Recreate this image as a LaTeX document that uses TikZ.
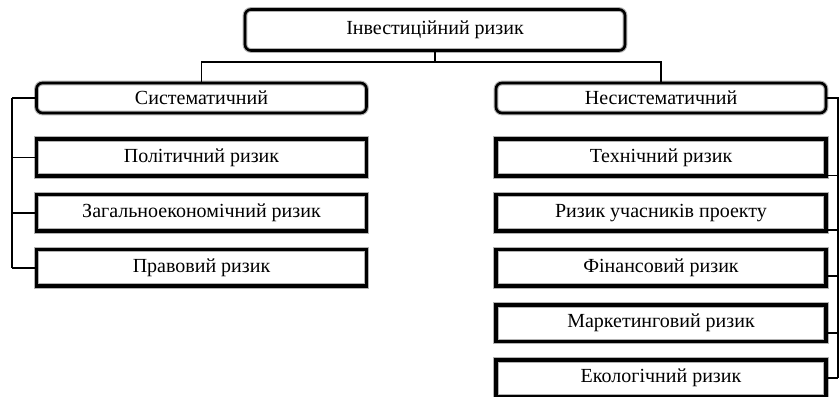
\documentclass[tikz,border=0pt]{standalone}
\usepackage{fontspec}
\setmainfont{Liberation Serif}
\usetikzlibrary{positioning}

\begin{document}
\begin{tikzpicture}[x=0.5pt,y=-0.5pt,
      node distance=7.5pt,
      korin/.style={draw,rounded corners=3pt,line width=1.3pt,align=center,
                    font=\fontsize{10}{12}\selectfont,
                    minimum width=190pt,minimum height=20.5pt,
                    preaction={draw=black!30,line width=2.4pt}},
      grupa/.style={korin,minimum width=165pt,minimum height=15pt},
      vyd/.style={draw,line width=1.8pt,align=center,
                  font=\fontsize{10}{12}\selectfont,
                  minimum width=165pt,minimum height=18.3pt,
                  preaction={draw=black!30,line width=2.8pt}},
      link/.style={draw=black,line width=0.9pt}]
    \fill[white] (0,0) rectangle (839,396);
    \useasboundingbox (0,0) rectangle (839,396);
    \node[korin] (inv) at (435,30) {Інвестиційний ризик};
    \node[grupa] (sys) at (201.5,98) {Систематичний};
    \node[grupa] (nsys) at (661,98) {Несистематичний};
    % systematic risks
    \node[vyd,below=11.5pt of sys] (s1) {Політичний ризик};
    \node[vyd,below=of s1] (s2) {Загальноекономічний ризик};
    \node[vyd,below=of s2] (s3) {Правовий ризик};
    % non-systematic risks
    \node[vyd,below=11.5pt of nsys] (t1) {Технічний ризик};
    \node[vyd,below=of t1] (t2) {Ризик учасників проекту};
    \node[vyd,below=of t2] (t3) {Фінансовий ризик};
    \node[vyd,below=of t3] (t4) {Маркетинговий ризик};
    \node[vyd,below=of t4] (t5) {Екологічний ризик};
    \coordinate (vuzol) at (435,62);
    \coordinate (lrail) at (12,0);
    \coordinate (rrail) at (838,0);
    \draw[link] (inv) -- (vuzol);
    \draw[link] (sys.north) -- (sys.north |- vuzol) -- (nsys.north |- vuzol) -- (nsys.north);
    \draw[link,line width=1.3pt] (sys.west -| lrail) -- (s3.west -| lrail);
    \foreach \n in {sys,s1,s2,s3} \draw[link] (\n.west) -- (\n.west -| lrail);
    \draw[link] (nsys.east) -- (nsys.east -| rrail) -- ([yshift=-0pt]t5.east -| rrail);
    \foreach \n/\d in {t1/18,t2/17,t3/8,t4/10,t5/0}
      \draw[link] (\n.east) ++(0,\d) coordinate (kin) -- (kin -| rrail);
  \end{tikzpicture}
\end{document}
